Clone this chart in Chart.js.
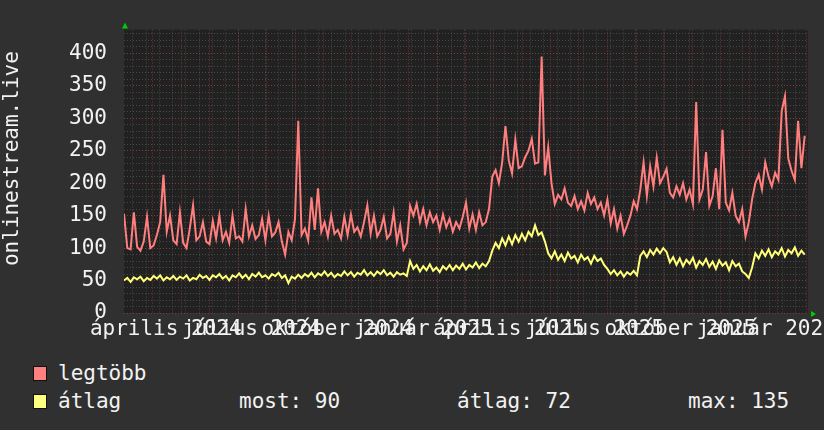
<!DOCTYPE html>
<html>
<head>
<meta charset="utf-8">
<script src="https://cdn.jsdelivr.net/npm/chart.js@4.4.1/dist/chart.umd.min.js"></script>
<style>
  html, body { margin: 0; padding: 0; background: #303030; }
  #wrap { position: relative; width: 824px; height: 430px; overflow: hidden; }
  #wrap canvas { position: absolute; left: 0; top: 0; }
  .lg { position: absolute; font: 21px 'DejaVu Sans Mono', monospace; color: #f2f2f2; line-height: 21px; white-space: pre; }
  .sw { position: absolute; width: 12px; height: 13px; border: 1px solid #111; }
</style>
</head>
<body>
<div id="wrap">
  <canvas id="grafikon" width="824" height="345"></canvas>
  <div class="sw" style="left:33px;top:366px;background:#ff8080"></div>
  <div class="lg" style="left:58px;top:363px">legtöbb</div>
  <div class="sw" style="left:33px;top:394px;background:#ffff80"></div>
  <div class="lg" style="left:58px;top:391px">átlag</div>
  <div class="lg" style="left:239px;top:391px">most: 90</div>
  <div class="lg" style="left:457px;top:391px">átlag: 72</div>
  <div class="lg" style="left:688px;top:391px">max: 135</div>
</div>
<script>
// negyedéves feliratok és helyük (mintaszám egységben, 1 minta = fél hét)
const negyedevek = ['április 2024', 'július 2024', 'október 2024', 'január 2025',
                    'április 2025', 'július 2025', 'október 2025', 'január 2026'];
const negyedevHely = [12.7, 38.8, 64.9, 91.0, 117.0, 143.1, 169.2, 195.3];
const honapHely = [8.8, 17.4, 26.1, 34.7, 43.3, 52.0, 60.6, 69.3, 77.9, 86.5, 95.2, 103.8,
                   112.4, 121.1, 129.7, 138.3, 147.0, 155.6, 164.3, 172.9, 181.5, 190.2, 198.8, 207.4];
const yFeliratok = [0, 50, 100, 150, 200, 250, 300, 350, 400];

// legtöbb (max)
const legtobb = [
  153,100,98,155,102,96,110,148,100,104,
  120,140,213,125,150,112,106,155,108,100,
  130,166,112,118,140,110,106,142,115,150,
  112,125,108,150,115,118,110,160,118,135,
  114,120,145,112,150,118,124,140,110,90,
  125,112,145,296,
  120,130,112,178,128,192,125,140,118,150,
  122,128,115,148,120,152,125,132,118,140,
  166,122,150,118,128,148,115,122,155,110,
  135,98,108,
  165,150,168,140,160,135,155,140,150,128,
  152,132,145,125,140,130,148,170,130,152,
  128,155,135,140,160,
  210,220,200,232,288,235,215,267,223,226,
  240,250,268,230,232,395,212,
  255,200,168,182,175,192,170,165,180,160,
  172,158,185,168,178,160,170,150,
  175,138,160,130,150,122,135,150,172,160,
  190,232,180,226,195,239,200,210,222,
  185,178,195,182,200,175,190,168,325,175,
  190,248,165,180,223,160,282,170,158,185,
  150,140,160,118,140,
  175,200,213,190,232,210,195,216,205,311,
  334,238,219,205,296,223,273
];

// átlag
const atlag = [
  50,54,48,55,52,56,49,54,51,57,
  53,58,50,55,52,57,51,56,53,58,
  50,54,52,59,54,57,51,58,55,60,
  53,57,50,58,55,61,54,59,52,60,
  56,62,55,58,53,60,57,62,54,58,
  46,56,53,59,
  54,60,56,62,55,61,58,64,57,62,
  55,60,57,64,58,63,56,62,59,66,
  58,63,57,64,60,66,58,62,56,63,
  59,61,57,
  80,68,74,64,72,66,75,65,70,63,
  72,67,74,66,73,68,76,67,74,70,
  78,69,76,72,80,
  96,108,100,115,104,118,106,120,110,122,
  112,125,118,135,120,124,110,
  92,84,95,82,90,80,93,84,88,78,
  90,82,86,76,88,80,84,74,
  68,60,66,58,64,56,63,59,65,58,
  88,95,86,97,90,99,92,100,94,
  78,86,74,84,72,82,76,85,70,80,
  74,83,71,79,68,81,73,78,66,80,
  72,76,64,60,54,
  70,92,84,96,88,98,86,95,90,100,
  87,97,92,101,88,96,90
];

const pontok = arr => arr.map((v, i) => ({x: i, y: v}));
const betu = {family: "'DejaVu Sans Mono', monospace", size: 21};
const szurke = 'rgba(120,120,120,0.45)';
const piros = 'rgba(150,60,60,0.75)';
const pontozott = {display: false, dash: [1, 2]};

const hatter = {
  id: 'hatter',
  beforeDraw(chart) {
    const {ctx, chartArea: a} = chart;
    ctx.save();
    ctx.fillStyle = '#212121';
    ctx.fillRect(a.left, a.top, a.right - a.left, a.bottom - a.top);
    ctx.restore();
  },
  afterDraw(chart) {
    const {ctx, chartArea: a} = chart;
    ctx.save();
    ctx.fillStyle = '#00cc00';
    ctx.beginPath();
    ctx.moveTo(a.left + 1, a.top - 7);
    ctx.lineTo(a.left - 2, a.top - 1);
    ctx.lineTo(a.left + 4, a.top - 1);
    ctx.fill();
    ctx.beginPath();
    ctx.moveTo(a.right + 8, a.bottom + 1);
    ctx.lineTo(a.right + 3, a.bottom - 2);
    ctx.lineTo(a.right + 3, a.bottom + 4);
    ctx.fill();
    ctx.restore();
  }
};

const rejtett = s => { s.height = 0; s.paddingLeft = 0; s.paddingRight = 0; };

new Chart(document.getElementById('grafikon'), {
  type: 'line',
  data: {
    datasets: [
      {label: 'legtöbb', data: pontok(legtobb), borderColor: '#ff7f7f', borderWidth: 2,
       pointRadius: 0, tension: 0, fill: false, xAxisID: 'x', yAxisID: 'y'},
      {label: 'átlag', data: pontok(atlag), borderColor: '#ffff78', borderWidth: 2,
       pointRadius: 0, tension: 0, fill: false, xAxisID: 'x', yAxisID: 'y'}
    ]
  },
  options: {
    responsive: false,
    animation: false,
    devicePixelRatio: 1,
    layout: {padding: {left: 0, top: 14, right: 16, bottom: 0}},
    plugins: {legend: {display: false}, tooltip: {enabled: false}},
    scales: {
      xMin: {
        type: 'linear', position: 'bottom', min: 0, max: 208,
        ticks: {display: false},
        grid: {color: szurke, drawTicks: false},
        border: pontozott,
        afterBuildTicks: s => {
          const t = [];
          for (let v = 2.73; v < 208; v += 4.03) t.push({value: v});
          s.ticks = t;
        },
        afterFit: rejtett
      },
      yMin: {
        type: 'linear', position: 'left', min: 0, max: 436.5,
        ticks: {display: false},
        grid: {color: szurke, drawTicks: false},
        border: pontozott,
        afterBuildTicks: s => {
          const t = [];
          for (let v = 10; v <= 430; v += 10) t.push({value: v});
          s.ticks = t;
        },
        afterFit: s => { s.width = 0; }
      },
      xMaj: {
        type: 'linear', position: 'bottom', min: 0, max: 208,
        ticks: {display: false},
        grid: {color: piros, drawTicks: false},
        border: pontozott,
        afterBuildTicks: s => { s.ticks = honapHely.map(v => ({value: v})); },
        afterFit: rejtett
      },
      x: {
        type: 'linear', position: 'bottom', min: 0, max: 208,
        grid: {display: false, drawTicks: false},
        border: {display: false},
        ticks: {
          color: '#f2f2f2', font: betu, padding: 4,
          autoSkip: false, maxRotation: 0, minRotation: 0,
          callback: (v, i) => negyedevek[i]
        },
        afterBuildTicks: s => { s.ticks = negyedevHely.map(v => ({value: v})); },
        afterFit: s => { s.height = 32; s.paddingLeft = 0; s.paddingRight = 0; }
      },
      y: {
        type: 'linear', position: 'left', min: 0, max: 436.5,
        grid: {color: piros, drawTicks: false},
        border: pontozott,
        ticks: {color: '#f2f2f2', font: betu, padding: 17},
        afterBuildTicks: s => { s.ticks = yFeliratok.map(v => ({value: v})); },
        title: {display: true, text: '  onlinestream.live', color: '#f2f2f2', font: betu, padding: 0},
        afterFit: s => { s.width = 124; }
      }
    }
  },
  plugins: [hatter]
});
</script>
</body>
</html>
